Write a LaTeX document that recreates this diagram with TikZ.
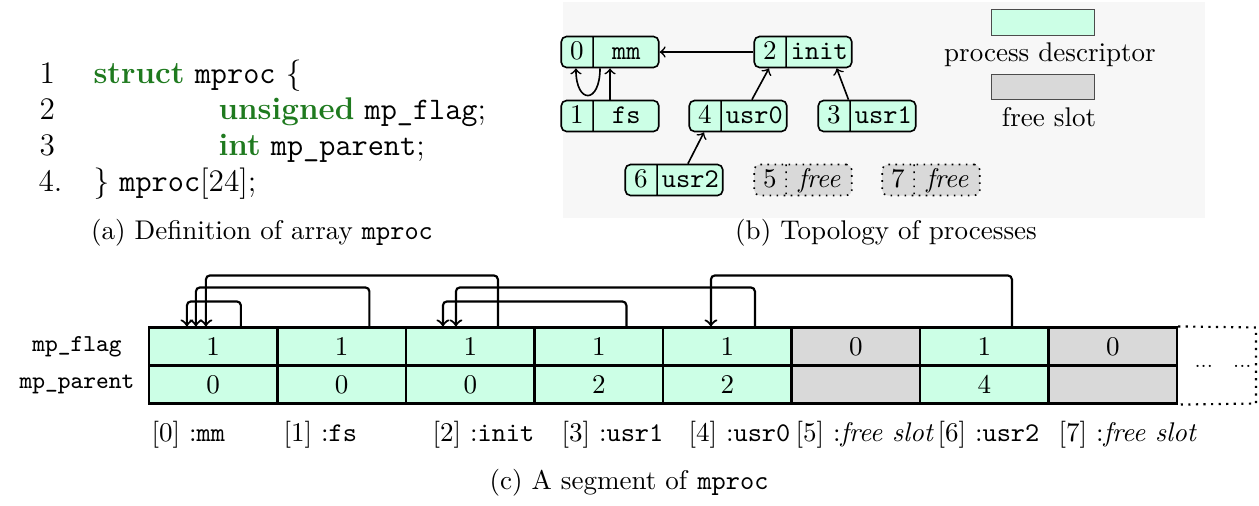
\documentclass[tikz,border=0pt]{standalone}
\usetikzlibrary{shapes.multipart,calc}
\definecolor{procfill}{HTML}{CCFFE6}
\definecolor{freefill}{HTML}{D9D9D9}
\definecolor{kwgreen}{HTML}{1F7A1F}
\definecolor{panelgray}{HTML}{F7F7F7}
\newcommand{\pstrut}{\rule[-3pt]{0pt}{11.5pt}}

\begin{document}
\begin{tikzpicture}[x=0.37pt, y=-0.37pt,
    code/.style={anchor=base west, inner sep=0pt, font=\fontsize{11.6}{14}\selectfont},
    proc/.style={rectangle split, rectangle split horizontal, rectangle split parts=2,
      draw, semithick, rounded corners=2pt, fill=procfill, inner xsep=0pt, inner ysep=0pt},
    freeproc/.style={proc, dotted, fill=freefill},
    cell/.style={draw, thick, fill=procfill, minimum width=47.55pt, minimum height=14.06pt, inner sep=0pt},
    freecell/.style={cell, fill=freefill},
    index/.style={anchor=base west, inner sep=0pt},
    link/.style={->, thick, rounded corners=1.5pt}]
    \useasboundingbox (0,0) rectangle (1259,505);

    % (a) the struct
    \node[code] (l1) at (39,83) {1};
    \node[code] (l2) at (39,119) {2};
    \node[code] (l3) at (39,155) {3};
    \node[code] (l4) at (38,191) {4.};
    \node[code] (s1) at (93,83) {{\color{kwgreen}\bfseries struct} \texttt{mproc} \{};
    \node[code] (s2) at (218,119) {{\color{kwgreen}\bfseries unsigned} \texttt{mp\_flag};};
    \node[code] (s3) at (218,155) {{\color{kwgreen}\bfseries int} \texttt{mp\_parent};};
    \node[code] (s4) at (93,191) {\} \texttt{mproc}[24];};
    \node[anchor=base] (capa) at (262,239) {(a) Definition of array \texttt{mproc}};

    % (b) the process tree
    \fill[panelgray] (563,2) rectangle (1205,218);
    \node[proc] (p0) at (610,52) {\makebox[11.5pt]{\pstrut 0}\nodepart{two}\makebox[24pt]{\pstrut\texttt{mm}}};
    \node[proc] (p2) at (803,52) {\makebox[11.5pt]{\pstrut 2}\nodepart{two}\makebox[24pt]{\pstrut\texttt{init}}};
    \node[proc] (p1) at (610,116) {\makebox[11.5pt]{\pstrut 1}\nodepart{two}\makebox[24pt]{\pstrut\texttt{fs}}};
    \node[proc] (p4) at (738,116) {\makebox[11.5pt]{\pstrut 4}\nodepart{two}\makebox[24pt]{\pstrut\texttt{usr0}}};
    \node[proc] (p3) at (867,116) {\makebox[11.5pt]{\pstrut 3}\nodepart{two}\makebox[24pt]{\pstrut\texttt{usr1}}};
    \node[proc] (p6) at (674,180) {\makebox[11.5pt]{\pstrut 6}\nodepart{two}\makebox[24pt]{\pstrut\texttt{usr2}}};
    \node[freeproc] (p5) at (803,180) {\makebox[11.5pt]{\pstrut 5}\nodepart{two}\makebox[24pt]{\pstrut\textit{free}}};
    \node[freeproc] (p7) at (931,180) {\makebox[11.5pt]{\pstrut 7}\nodepart{two}\makebox[24pt]{\pstrut\textit{free}}};
    \draw[->, semithick] (p2.west) -- (p0.east);
    \draw[->, semithick] (p1.north) -- (p0.south);
    \draw[->, semithick] ([xshift=-3.7pt]p0.south) .. controls +(0,36) and +(0,36) .. ([xshift=5.75pt]p0.south west);
    \draw[->, semithick] ([xshift=23.5pt]p4.north west) -- ([xshift=5.75pt]p2.south west);
    \draw[->, semithick] ([xshift=11.5pt]p3.north west) -- ([xshift=-5.9pt]p2.south east);
    \draw[->, semithick] ([xshift=23.5pt]p6.north west) -- ([xshift=5.75pt]p4.south west);
    % legend
    \node[draw=black!70, fill=procfill, minimum width=38.2pt, minimum height=9.3pt, inner sep=0pt] (legproc) at (1043,22.5) {};
    \node (legproctxt) at (1050,55) {process descriptor};
    \node[draw=black!70, fill=freefill, minimum width=38.2pt, minimum height=9.3pt, inner sep=0pt] (legfree) at (1043,86.7) {};
    \node (legfreetxt) at (1049,117) {free slot};
    \node[anchor=base] (capb) at (886,239) {(b) Topology of processes};

    % (c) the array
    \node[font=\small] (flag) at (77,346.5) {\texttt{mp\_flag}};
    \node[font=\small] (parent) at (77,384.5) {\texttt{mp\_parent}};
    \node[cell] (c0f) at (213.25,346.5) {1};
    \node[cell] (c1f) at (341.75,346.5) {1};
    \node[cell] (c2f) at (470.25,346.5) {1};
    \node[cell] (c3f) at (598.75,346.5) {1};
    \node[cell] (c4f) at (727.25,346.5) {1};
    \node[freecell] (c5f) at (855.75,346.5) {0};
    \node[cell] (c6f) at (984.25,346.5) {1};
    \node[freecell] (c7f) at (1112.75,346.5) {0};
    \node[cell] (c0p) at (213.25,384.5) {0};
    \node[cell] (c1p) at (341.75,384.5) {0};
    \node[cell] (c2p) at (470.25,384.5) {0};
    \node[cell] (c3p) at (598.75,384.5) {2};
    \node[cell] (c4p) at (727.25,384.5) {2};
    \node[freecell] (c5p) at (855.75,384.5) {};
    \node[cell] (c6p) at (984.25,384.5) {4};
    \node[freecell] (c7p) at (1112.75,384.5) {};
    \draw[dotted, thick] (c7f.north east) -- (1256,327.5) -- (1256,403.5) -- (c7p.south east);
    \node[anchor=base] (more) at (1223,367) {\scriptsize ...\hspace{7.5pt}...};
    \draw[link] ($(c0f.north west)+(93,0)$) -- ++(0,-25) -| ($(c0f.north west)+(39,0)$);
    \draw[link] ($(c1f.north west)+(93,0)$) -- ++(0,-39) -| ($(c0f.north west)+(48,0)$);
    \draw[link] ($(c2f.north west)+(93,0)$) -- ++(0,-51) -| ($(c0f.north west)+(58,0)$);
    \draw[link] ($(c3f.north west)+(93,0)$) -- ++(0,-25) -| ($(c2f.north west)+(38,0)$);
    \draw[link] ($(c4f.north west)+(93,0)$) -- ++(0,-39) -| ($(c2f.north west)+(51,0)$);
    \draw[link] ($(c6f.north west)+(93,0)$) -- ++(0,-51) -| ($(c4f.north west)+(49,0)$);
    \node[index] (i0) at (151,441) {[0] :\texttt{mm}};
    \node[index] (i1) at (283,441) {[1] :\texttt{fs}};
    \node[index] (i2) at (432,441) {[2] :\texttt{init}};
    \node[index] (i3) at (561,441) {[3] :\texttt{usr1}};
    \node[index] (i4) at (688,441) {[4] :\texttt{usr0}};
    \node[index] (i5) at (795,441) {[5] :\textit{free slot}};
    \node[index] (i6) at (937,441) {[6] :\texttt{usr2}};
    \node[index] (i7) at (1058,441) {[7] :\textit{free slot}};
    \node[anchor=base] (capc) at (629,489) {(c) A segment of \texttt{mproc}};
\end{tikzpicture}
\end{document}
